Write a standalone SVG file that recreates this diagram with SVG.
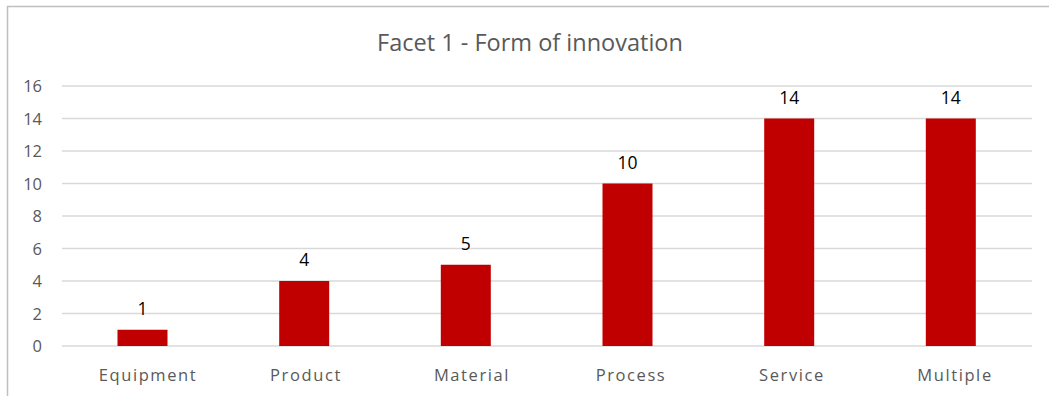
<svg xmlns="http://www.w3.org/2000/svg" width="1049" height="396" viewBox="0 0 1049 396">
<style>
.grid{stroke:#D9D9D9;stroke-width:1.5}
.bar{fill:#C00000}
.ax{font-family:"Open Sans","Liberation Sans",sans-serif;font-size:16.5px;fill:#595959}
.cat{font-family:"Open Sans","Liberation Sans",sans-serif;font-size:16.5px;fill:#595959;text-anchor:middle;letter-spacing:1.6px}
.val{font-family:"Open Sans","Liberation Sans",sans-serif;font-size:17.5px;fill:#000;text-anchor:middle}
.title{font-family:"Open Sans","Liberation Sans",sans-serif;font-size:23.5px;fill:#595959;text-anchor:middle}
</style>
<rect x="0" y="0" width="1049" height="396" fill="#fff"/>
<path d="M7.5 396V6.5H1049" fill="none" stroke="#BFBFBF" stroke-width="1.5"/>
<text class="title" x="530" y="51">Facet 1 - Form of innovation</text>
<g id="grid">
<line class="grid" x1="62" x2="1032" y1="86" y2="86"/>
<line class="grid" x1="62" x2="1032" y1="118.5" y2="118.5"/>
<line class="grid" x1="62" x2="1032" y1="151" y2="151"/>
<line class="grid" x1="62" x2="1032" y1="183.5" y2="183.5"/>
<line class="grid" x1="62" x2="1032" y1="216" y2="216"/>
<line class="grid" x1="62" x2="1032" y1="248.5" y2="248.5"/>
<line class="grid" x1="62" x2="1032" y1="281" y2="281"/>
<line class="grid" x1="62" x2="1032" y1="313.5" y2="313.5"/>
<line class="grid" x1="62" x2="1032" y1="346" y2="346"/>
</g>
<g id="yaxis" text-anchor="end">
<text class="ax" x="42" y="92">16</text>
<text class="ax" x="42" y="124.5">14</text>
<text class="ax" x="42" y="157">12</text>
<text class="ax" x="42" y="189.5">10</text>
<text class="ax" x="42" y="222">8</text>
<text class="ax" x="42" y="254.5">6</text>
<text class="ax" x="42" y="287">4</text>
<text class="ax" x="42" y="319.5">2</text>
<text class="ax" x="42" y="352">0</text>
</g>
<g id="bar-equipment">
<rect class="bar" x="117.5" y="329.75" width="50" height="16.25"/>
<text class="val" x="142.5" y="315">1</text>
<text class="cat" x="148" y="381">Equipment</text>
</g>
<g id="bar-product">
<rect class="bar" x="279.2" y="281" width="50" height="65"/>
<text class="val" x="304.2" y="266">4</text>
<text class="cat" x="306" y="381">Product</text>
</g>
<g id="bar-material">
<rect class="bar" x="440.8" y="264.75" width="50" height="81.25"/>
<text class="val" x="465.8" y="250">5</text>
<text class="cat" x="472" y="381">Material</text>
</g>
<g id="bar-process">
<rect class="bar" x="602.5" y="183.5" width="50" height="162.5"/>
<text class="val" x="627.5" y="169">10</text>
<text class="cat" x="631" y="381">Process</text>
</g>
<g id="bar-service">
<rect class="bar" x="764.2" y="118.5" width="50" height="227.5"/>
<text class="val" x="789.2" y="104">14</text>
<text class="cat" x="792" y="381">Service</text>
</g>
<g id="bar-multiple">
<rect class="bar" x="925.8" y="118.5" width="50" height="227.5"/>
<text class="val" x="950.8" y="104">14</text>
<text class="cat" x="955" y="381">Multiple</text>
</g>
</svg>
